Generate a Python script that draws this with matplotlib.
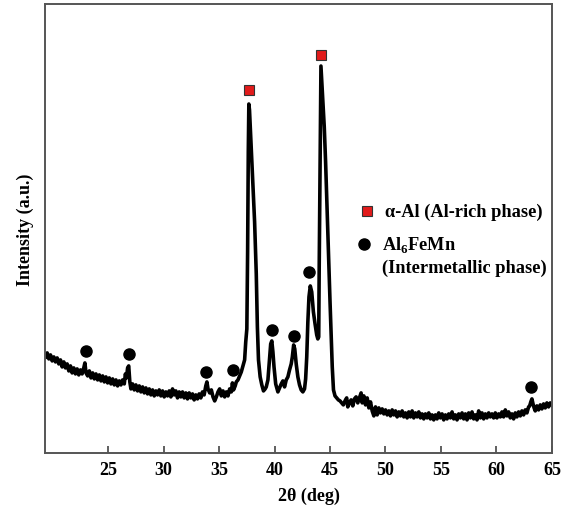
import numpy as np
import matplotlib
matplotlib.use('Agg')
import matplotlib.pyplot as plt

# XRD pattern (intensity in arbitrary units)
two_theta = [19.35, 19.5, 19.65, 19.8, 19.95, 20.1, 20.25, 20.4, 20.55, 20.7, 20.85, 21.0, 21.15, 21.3, 21.45,
             21.6, 21.75, 21.9, 22.05, 22.2, 22.35, 22.5, 22.65, 22.8, 22.9, 23.0, 23.15, 23.3, 23.45, 23.6,
             23.75, 23.9, 24.05, 24.2, 24.35, 24.5, 24.65, 24.8, 24.95, 25.1, 25.25, 25.4, 25.55, 25.7, 25.85,
             26.0, 26.15, 26.3, 26.45, 26.55, 26.65, 26.75, 26.85, 26.95, 27.05, 27.2, 27.35, 27.5, 27.65, 27.8,
             27.95, 28.1, 28.25, 28.4, 28.55, 28.7, 28.85, 29.0, 29.15, 29.3, 29.45, 29.6, 29.75, 29.9, 30.05,
             30.2, 30.35, 30.5, 30.65, 30.8, 30.95, 31.1, 31.25, 31.4, 31.55, 31.7, 31.85, 32.0, 32.15, 32.3,
             32.45, 32.6, 32.75, 32.9, 33.05, 33.2, 33.35, 33.5, 33.65, 33.8, 33.9, 34.0, 34.15, 34.3, 34.45,
             34.6, 34.75, 34.9, 35.05, 35.2, 35.35, 35.5, 35.65, 35.8, 35.95, 36.1, 36.2, 36.3, 36.45, 36.55,
             36.7, 36.85, 37.0, 37.15, 37.3, 37.4, 37.5, 37.57, 37.63, 37.68, 37.74, 37.84, 37.95, 38.05, 38.2,
             38.35, 38.45, 38.55, 38.7, 38.85, 39.0, 39.15, 39.25, 39.4, 39.55, 39.65, 39.75, 39.85, 39.95, 40.1,
             40.3, 40.45, 40.6, 40.75, 40.9, 41.05, 41.2, 41.35, 41.5, 41.6, 41.72, 41.82, 41.95, 42.1, 42.25,
             42.4, 42.55, 42.7, 42.8, 42.9, 43.0, 43.1, 43.22, 43.35, 43.5, 43.65, 43.8, 43.9, 43.98, 44.02,
             44.08, 44.13, 44.18, 44.25, 44.35, 44.48, 44.6, 44.78, 44.9, 45.0, 45.08, 45.2, 45.31, 45.45, 45.6,
             45.75, 45.9, 46.05, 46.2, 46.35, 46.5, 46.6, 46.75, 46.9, 47.05, 47.2, 47.35, 47.5, 47.65, 47.8,
             47.9, 48.05, 48.2, 48.35, 48.5, 48.65, 48.8, 48.95, 49.1, 49.25, 49.4, 49.55, 49.7, 49.85, 50.0,
             50.15, 50.3, 50.45, 50.6, 50.75, 50.9, 51.05, 51.2, 51.35, 51.5, 51.65, 51.8, 51.95, 52.1, 52.25,
             52.4, 52.55, 52.7, 52.85, 53.0, 53.15, 53.3, 53.45, 53.6, 53.75, 53.9, 54.05, 54.2, 54.35, 54.5,
             54.65, 54.8, 54.95, 55.1, 55.25, 55.4, 55.55, 55.7, 55.85, 56.0, 56.15, 56.3, 56.45, 56.6, 56.75,
             56.9, 57.05, 57.2, 57.35, 57.5, 57.65, 57.8, 57.95, 58.1, 58.25, 58.4, 58.55, 58.7, 58.85, 59.0,
             59.15, 59.3, 59.45, 59.6, 59.75, 59.9, 60.05, 60.2, 60.35, 60.5, 60.65, 60.8, 60.95, 61.1, 61.25,
             61.4, 61.55, 61.7, 61.85, 62.0, 62.15, 62.3, 62.45, 62.6, 62.75, 62.9, 63.0, 63.1, 63.2, 63.3,
             63.4, 63.5, 63.65, 63.8, 63.95, 64.1, 64.25, 64.4, 64.55, 64.7, 64.85, 65.0]
intensity = [95, 99, 93, 97, 91, 95, 90, 94, 88, 92, 85, 90, 84, 88, 81,
             86, 79, 84, 78, 83, 77, 82, 78, 84, 89, 79, 76, 81, 74, 79,
             73, 78, 72, 77, 71, 76, 70, 75, 69, 74, 68, 73, 67, 72, 66,
             71, 67, 72, 68, 78, 74, 84, 86, 70, 63, 68, 62, 67, 61, 66,
             60, 65, 59, 64, 58, 63, 57, 62, 56, 61, 57, 62, 56, 61, 55,
             60, 56, 61, 55, 63, 57, 61, 54, 60, 55, 60, 54, 59, 53, 59,
             54, 58, 52, 57, 53, 58, 54, 60, 57, 66, 70, 63, 59, 62, 55,
             51, 55, 60, 63, 56, 61, 55, 60, 56, 63, 60, 69, 62, 66, 70,
             72, 76, 80, 86, 92, 110, 123, 200, 300, 348, 342, 318, 294, 270, 230,
             178, 125, 92, 75, 67, 61, 63, 65, 72, 93, 108, 111, 100, 85, 68,
             60, 64, 68, 71, 65, 72, 75, 82, 88, 95, 107, 103, 88, 75, 67,
             62, 60, 63, 73, 95, 130, 155, 166, 160, 140, 128, 117, 113, 115, 180,
             260, 340, 386, 372, 352, 325, 290, 226, 185, 150, 125, 85, 62, 56, 54,
             52, 51, 49, 47, 51, 54, 45, 49, 52, 46, 53, 55, 49, 54, 59,
             49, 56, 47, 54, 44, 50, 41, 36, 45, 37, 44, 39, 43, 38, 42,
             37, 41, 36, 42, 37, 41, 35, 40, 36, 41, 35, 39, 34, 40, 35,
             41, 34, 39, 35, 40, 34, 38, 33, 38, 34, 39, 33, 37, 32, 37,
             33, 39, 34, 38, 32, 37, 33, 38, 34, 40, 33, 37, 32, 38, 34,
             39, 33, 38, 32, 39, 34, 40, 33, 37, 32, 41, 34, 39, 33, 38,
             34, 39, 35, 38, 34, 39, 34, 38, 35, 40, 35, 42, 36, 40, 34,
             38, 33, 39, 35, 40, 36, 41, 37, 42, 39, 45, 46, 50, 53, 48,
             44, 41, 46, 42, 47, 43, 48, 44, 49, 45, 49, 47]

# phase markers
al_x = [37.66, 44.18]
al_y = [362, 397]
fe_x = [23.03, 26.84, 33.84, 36.27, 39.81, 41.72, 43.13, 63.15]
fe_y = [101, 98, 80, 82, 122, 116, 180, 65]

xticks = [25, 30, 35, 40, 45, 50, 55, 60, 65]

plt.rcParams['font.family'] = ['Liberation Serif', 'DejaVu Serif']
plt.rcParams['font.weight'] = 'bold'
plt.rcParams['mathtext.fontset'] = 'custom'
plt.rcParams['mathtext.rm'] = 'Liberation Serif:bold'
plt.rcParams['mathtext.bf'] = 'Liberation Serif:bold'

fig = plt.figure(figsize=(5.62, 5.06), dpi=100)
ax = fig.add_axes([0.080, 0.103, 0.902, 0.887])

ax.plot(two_theta, intensity, color='black', lw=2.6, solid_joinstyle='round')
ax.plot(al_x, al_y, 's', color='#e21b1b', mec='#333333', mew=0.8, ms=7)
ax.plot(fe_x, fe_y, 'o', color='black', ms=8)

ax.set_xlim(19.3, 65)
ax.set_ylim(-1, 448)
ax.set_xticks(xticks)
ax.set_yticks([])
ax.tick_params(axis='x', direction='in', length=5, width=1.2, color='#444444', labelsize=13, pad=6)
for lab in ax.get_xticklabels():
    lab.set_fontweight('bold')
for s in ax.spines.values():
    s.set_color('#555555')
    s.set_linewidth(1.4)

ax.set_xlabel('2θ (deg)', fontsize=13, fontweight='bold', labelpad=4)
ax.xaxis.set_label_coords(0.52, -0.075)
ax.set_ylabel('Intensity (a.u.)', fontsize=13, fontweight='bold', labelpad=8)

# legend, drawn by hand
ax.plot([0.635], [0.539], 's', color='#e21b1b', mec='#333333', mew=0.8, ms=7,
        transform=ax.transAxes, clip_on=False)
ax.text(0.671, 0.539, 'α-Al (Al-rich phase)', transform=ax.transAxes,
        fontsize=13.2, fontweight='bold', va='center', ha='left')
ax.plot([0.629], [0.465], 'o', color='black', ms=8, transform=ax.transAxes, clip_on=False)
ax.text(0.665, 0.465, r'Al$_{6}$FeMn', transform=ax.transAxes,
        fontsize=13.2, fontweight='bold', va='center', ha='left')
ax.text(0.665, 0.414, '(Intermetallic phase)', transform=ax.transAxes,
        fontsize=13.2, fontweight='bold', va='center', ha='left')

fig.savefig('out.png', dpi=100)
